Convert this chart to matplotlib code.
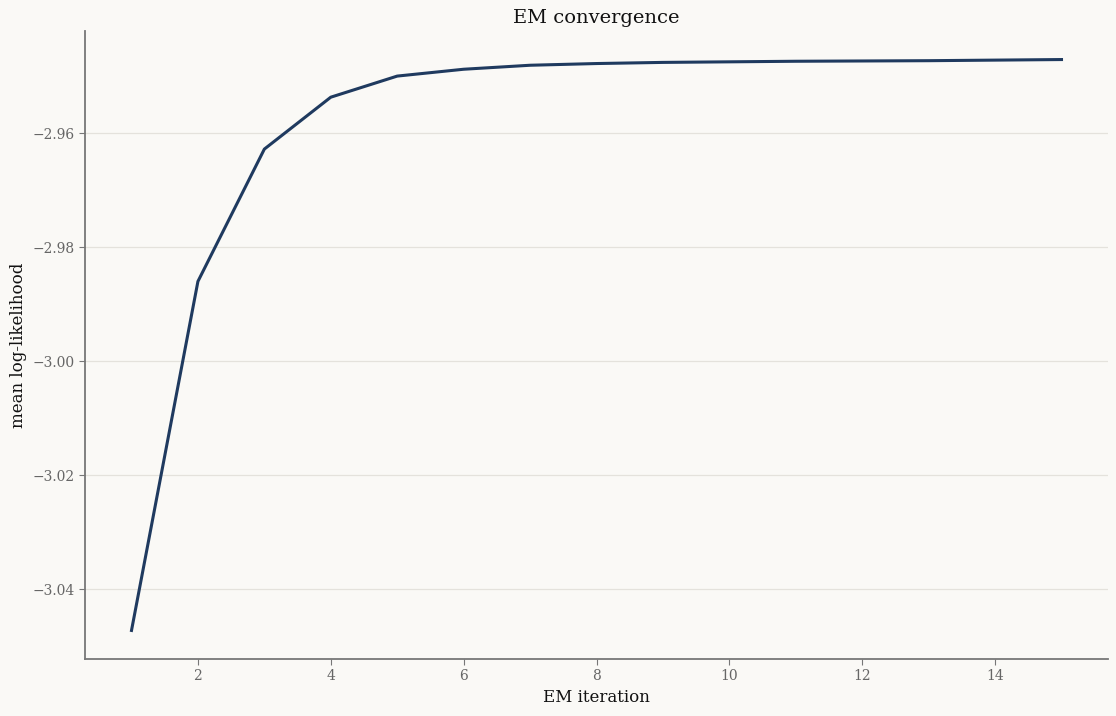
import numpy as np
import matplotlib.pyplot as plt

# mean log-likelihood per EM iteration
iterations = list(range(1, 16))
loglik = [-3.0472, -2.9860, -2.9628, -2.9537, -2.9500, -2.9488, -2.9481,
          -2.9478, -2.9476, -2.9475, -2.9474, -2.94735, -2.9473, -2.9472,
          -2.9471]

plt.rcParams['font.family'] = ['DejaVu Serif']

bg = '#faf9f6'
fig = plt.figure(figsize=(11.16, 7.16), dpi=100, facecolor=bg)
ax = fig.add_axes([85 / 1116, 57 / 716, 1023 / 1116, 628 / 716])
ax.set_facecolor(bg)

ax.plot(iterations, loglik, color='#1f3a5f', linewidth=2.2)

ax.set_title('EM convergence', fontsize=14, color='#111111')
ax.set_xlabel('EM iteration', fontsize=12, color='#111111')
ax.set_ylabel('mean log-likelihood', fontsize=12, color='#111111')

ax.grid(axis='y', color='#e4e2dc', linewidth=0.9)
ax.set_axisbelow(True)
for side in ['top', 'right']:
    ax.spines[side].set_visible(False)
for side in ['left', 'bottom']:
    ax.spines[side].set_color('#777777')
    ax.spines[side].set_linewidth(1.3)
ax.tick_params(colors='#666666', labelsize=10, length=4)
ax.tick_params(axis='both', colors='#777777', labelcolor='#666666')

fig.savefig('out.png', dpi=100, facecolor=bg)
